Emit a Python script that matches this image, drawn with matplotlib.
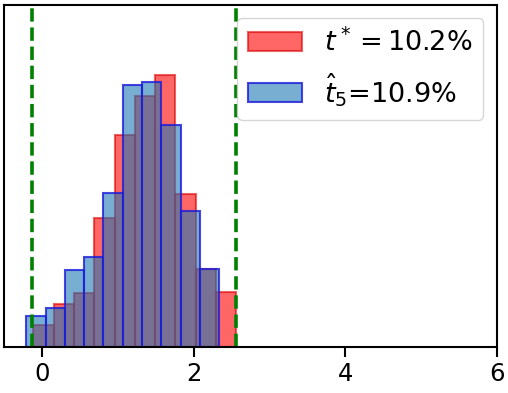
import numpy as np
import matplotlib
matplotlib.use("Agg")
import matplotlib.pyplot as plt

# ==========================
# Data (density histograms)
# ==========================
red_range = (-0.115, 2.565)
red_density = [0.063, 0.126, 0.158, 0.377, 0.620, 0.734, 0.795, 0.447, 0.228, 0.161]

blue_range = (-0.207, 2.337)
blue_density = [0.091, 0.114, 0.225, 0.263, 0.450, 0.766, 0.775, 0.649, 0.398, 0.228]

vlines = [-0.13, 2.565]

red_label = r"$t^*=10.2\%$"
blue_label = r"$\hat{t}_5$=10.9%"

xticks = [0, 2, 4, 6]

# ==========================
# Plot
# ==========================
fig = plt.figure(figsize=(5.08, 3.93), dpi=100)
ax = fig.add_axes([0.008, 0.117, 0.970, 0.8715])

red_edges = np.linspace(red_range[0], red_range[1], len(red_density) + 1)
blue_edges = np.linspace(blue_range[0], blue_range[1], len(blue_density) + 1)

ax.bar(red_edges[:-1], red_density, width=np.diff(red_edges), align="edge",
       facecolor=(1, 0, 0, 0.6), edgecolor=(0.85, 0, 0, 0.6),
       linewidth=1.5, label=red_label)
ax.bar(blue_edges[:-1], blue_density, width=np.diff(blue_edges), align="edge",
       facecolor=(0.12, 0.47, 0.71, 0.6), edgecolor=(0.1, 0.1, 0.85, 0.8),
       linewidth=1.5, label=blue_label)

for v in vlines:
    ax.axvline(v, color="green", linestyle="--", linewidth=2.6)

ax.set_xlim(-0.5, 6)
ax.set_ylim(0, 1.0)
ax.set_xticks(xticks)
ax.set_yticks([])
ax.tick_params(axis="x", labelsize=17.5, length=7, width=1.5)
for s in ax.spines.values():
    s.set_linewidth(1.5)

ax.legend(loc="upper right", fontsize=19.5, handlelength=2.0,
          borderaxespad=0.5)

fig.savefig("out.png", dpi=100)
